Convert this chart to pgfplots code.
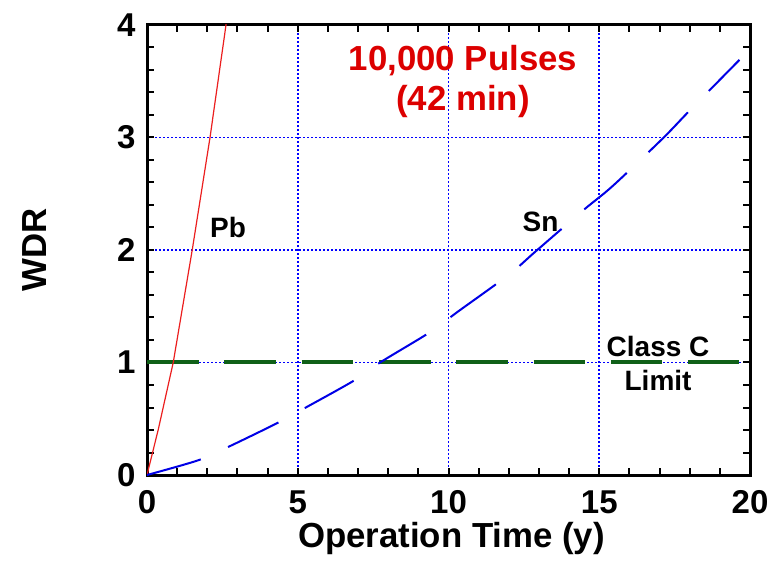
\documentclass[border=0pt]{standalone}
\usepackage{fontspec}
\setmainfont{Liberation Sans}
\usepackage{pgfplots}
\pgfplotsset{compat=1.18}

\definecolor{snblue}{RGB}{0,0,230}
\definecolor{pbred}{RGB}{235,30,30}
\definecolor{limgreen}{RGB}{16,96,24}
\definecolor{txtred}{RGB}{220,0,0}
\definecolor{gridblue}{RGB}{0,0,255}

\begin{document}
\begin{tikzpicture}
\useasboundingbox (-73.5pt,-43pt) rectangle (316pt,237.5pt);
\begin{axis}[
  at={(0,0)}, anchor=south west,
  scale only axis,
  width=301.5pt, height=225pt,
  xmin=0, xmax=20, ymin=0, ymax=4,
  xtick={0,5,...,20}, ytick={0,1,...,4},
  minor x tick num=4, minor y tick num=4,
  major tick length=3.5pt, minor tick length=3.5pt,
  every tick/.style={black, line width=1pt},
  axis line style={line width=1.5pt},
  grid=major,
  major grid style={gridblue, line width=0.8pt, dash pattern=on 1pt off 1pt},
  /pgf/number format/assume math mode=true,
  tick label style={font=\fontsize{16.5}{19}\selectfont\bfseries},
  xticklabel style={anchor=base, yshift=-19pt},
  yticklabel style={xshift=-2.2pt},
  xlabel={Operation Time (y)},
  ylabel={WDR},
  label style={font=\fontsize{17.4}{20}\selectfont\bfseries},
  xlabel style={at={(axis description cs:0.505,-0.1622)}, anchor=base},
  ylabel style={at={(axis description cs:-0.1857,0.5)}, anchor=center, rotate=0},
]
% Class C limit
\addplot[limgreen, line width=2pt, line cap=butt, dash pattern=on 25.8pt off 12.85pt]
  coordinates {(0,1) (19.64,1)};
% Pb
\addplot[pbred, line width=0.6pt]
  coordinates {(0,0) (0.37,0.40) (0.87,1.0) (1.5,2.0) (2.09,3.0) (2.62,4.0) (2.70,4.16)};
% Sn
\addplot[snblue, line width=1pt, smooth, dash pattern=on 28pt off 15pt]
  coordinates {(0,0) (1.69,0.13) (2.62,0.24) (4.31,0.46) (5.2,0.59) (6.87,0.84)
    (7.73,1.0) (9.39,1.27) (10.3,1.45) (12.0,1.78) (12.9,1.99) (14.5,2.36)
    (15.45,2.57) (17.1,2.99) (18.0,3.24) (19.65,3.69)};
\node[text=txtred, font=\fontsize{17.4}{20}\selectfont\bfseries, align=center]
  at (axis cs:10.48,3.5) {10,000 Pulses\\(42 min)};
\node[font=\fontsize{14}{17}\selectfont\bfseries] at (axis cs:2.69,2.2) {Pb};
\node[font=\fontsize{14}{17}\selectfont\bfseries] at (axis cs:13.05,2.25) {Sn};
\node[font=\fontsize{14}{17}\selectfont\bfseries, align=center]
  at (axis cs:16.95,0.99) {Class C\\Limit};
\end{axis}
\end{tikzpicture}
\end{document}
